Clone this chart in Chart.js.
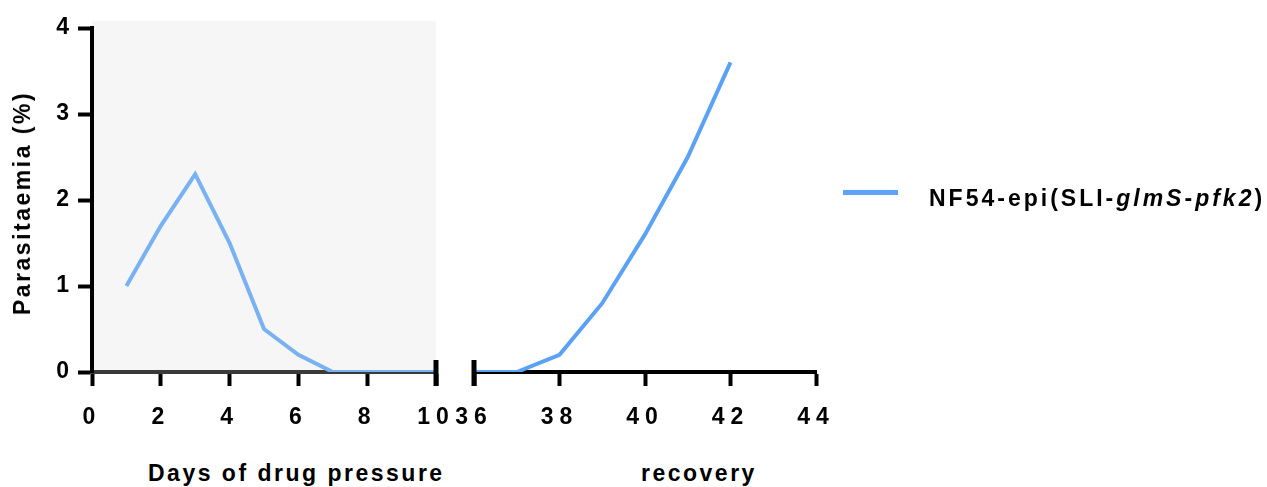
<!DOCTYPE html>
<html>
<head>
<meta charset="utf-8">
<script src="https://cdn.jsdelivr.net/npm/chart.js@4/dist/chart.umd.min.js"></script>
<style>
	body {
		margin: 0;
		background: #fff;
		width: 1267px;
		height: 487px;
		overflow: hidden;
		position: relative;
		font-family: "Liberation Sans", Arial, sans-serif;
		font-weight: bold;
		color: #000;
	}
	canvas {
		position: absolute;
		top: 0;
	}
	#drug-chart { left: 0; }
	#recovery-chart { left: 440px; }
	.label {
		position: absolute;
		font-size: 23px;
		line-height: 23px;
		letter-spacing: 2.5px;
		white-space: nowrap;
	}
	#y-title {
		left: 11px;
		top: 91px;
		writing-mode: vertical-rl;
		transform: rotate(180deg);
	}
	#legend-line {
		position: absolute;
		left: 843px;
		top: 190px;
		width: 55px;
		height: 5px;
		background: #5ea3f5;
	}
	#legend-text { left: 929px; top: 187px; letter-spacing: 3px; }
</style>
</head>
<body>
<canvas id="drug-chart" width="460" height="440"></canvas>
<canvas id="recovery-chart" width="410" height="440"></canvas>

<div class="label" id="y-title">Parasitaemia (%)</div>
<div class="label" style="left:148px; top:462px;">Days of drug pressure</div>
<div class="label" style="left:641px; top:462px;">recovery</div>
<div id="legend-line"></div>
<div class="label" id="legend-text">NF54-epi(SLI-<i>glmS</i>-<i>pfk2</i>)</div>

<script>
// data
const drugDays = [1, 2, 3, 4, 5, 6, 7, 8, 9, 10];
const drugParasitaemia = [1.0, 1.7, 2.3, 1.5, 0.5, 0.2, 0, 0, 0, 0];
const recoveryDays = [36, 37, 38, 39, 40, 41, 42];
const recoveryParasitaemia = [0, 0, 0.2, 0.8, 1.6, 2.5, 3.6];
const drugRange = [0, 10];
const recoveryRange = [36, 44];
const yRange = [0, 4];

const fontFamily = '"Liberation Sans", Arial, sans-serif';
const tickFont = { family: fontFamily, size: 23, weight: "bold" };

function toPoints(xs, ys) {
	return xs.map((x, i) => ({ x: x, y: ys[i] }));
}

// letter spaced tick labels, grey panel and the axis break marks
const stylePlugin = {
	id: "style",
	beforeLayout(chart) {
		chart.ctx.letterSpacing = "6px";
	},
	beforeDraw(chart, args, opts) {
		const ctx = chart.ctx;
		ctx.letterSpacing = "6px";
		if (opts.shade) {
			const a = chart.chartArea;
			ctx.save();
			ctx.fillStyle = "#f6f6f6";
			ctx.fillRect(a.left, a.top - 7, a.right - a.left, a.bottom - a.top + 7);
			ctx.restore();
		}
	},
	afterDatasetsDraw(chart, args, opts) {
		if (opts.breakAt === undefined) return;
		const ctx = chart.ctx;
		const x = chart.scales.x.getPixelForValue(opts.breakAt);
		const y = chart.chartArea.bottom;
		ctx.save();
		ctx.strokeStyle = "#000";
		ctx.lineWidth = 5;
		ctx.beginPath();
		ctx.moveTo(x, y - 12);
		ctx.lineTo(x, y + 14);
		ctx.stroke();
		ctx.restore();
	},
};

function xAxis(range, borderColor) {
	return {
		type: "linear",
		min: range[0],
		max: range[1],
		ticks: { stepSize: 2, color: "#000", font: tickFont, padding: 18 },
		grid: {
			drawOnChartArea: false,
			tickLength: 14,
			tickWidth: 4,
			tickColor: "#000",
		},
		border: { color: borderColor, width: 4 },
		afterFit(scale) {
			scale.height = 68;
			// the layout padding already leaves room for the end labels
			scale.paddingLeft = 0;
			scale.paddingRight = 0;
		},
	};
}

new Chart(document.getElementById("drug-chart"), {
	type: "line",
	data: {
		datasets: [
			{
				data: toPoints(drugDays, drugParasitaemia),
				borderColor: "#78b2f2",
				borderWidth: 4,
				pointRadius: 0,
				tension: 0,
			},
		],
	},
	options: {
		responsive: false,
		animation: false,
		layout: { padding: { top: 28, right: 24, left: 0, bottom: 0 } },
		plugins: {
			legend: { display: false },
			tooltip: { enabled: false },
			style: { shade: true, breakAt: drugRange[1] },
		},
		scales: {
			x: xAxis(drugRange, "#3a3a3a"),
			y: {
				min: yRange[0],
				max: yRange[1],
				ticks: { stepSize: 1, color: "#000", font: tickFont, padding: 3 },
				grid: {
					drawOnChartArea: false,
					tickLength: 14,
					tickWidth: 4,
					tickColor: "#000",
				},
				border: { color: "#000", width: 4 },
				afterFit(scale) {
					scale.width = 92;
					scale.paddingTop = 0;
					scale.paddingBottom = 0;
				},
			},
		},
	},
	plugins: [stylePlugin],
});

new Chart(document.getElementById("recovery-chart"), {
	type: "line",
	data: {
		datasets: [
			{
				data: toPoints(recoveryDays, recoveryParasitaemia),
				borderColor: "#5ca2f4",
				borderWidth: 4,
				pointRadius: 0,
				tension: 0,
			},
		],
	},
	options: {
		responsive: false,
		animation: false,
		layout: { padding: { top: 28, right: 34, left: 34, bottom: 0 } },
		plugins: {
			legend: { display: false },
			tooltip: { enabled: false },
			style: { shade: false, breakAt: recoveryRange[0] },
		},
		scales: {
			x: xAxis(recoveryRange, "#000"),
			y: { display: false, min: yRange[0], max: yRange[1] },
		},
	},
	plugins: [stylePlugin],
});
</script>
</body>
</html>
